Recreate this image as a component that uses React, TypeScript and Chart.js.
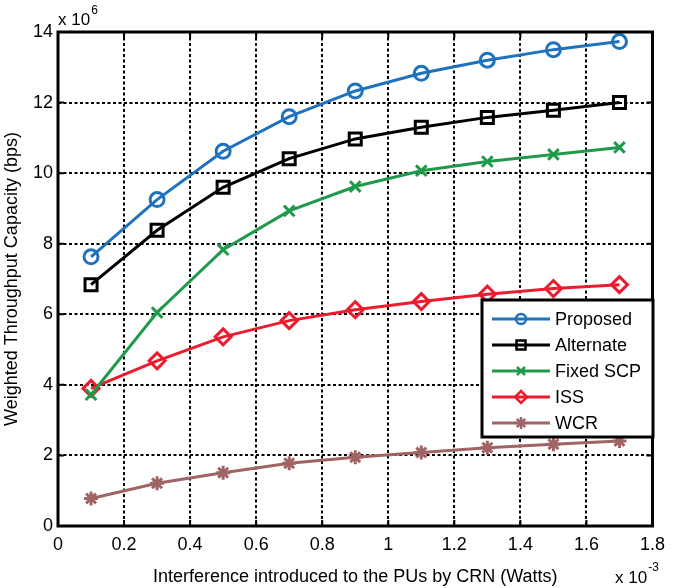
import React, { useEffect, useRef } from "react";
import { Chart, registerables } from "chart.js";

Chart.register(...registerables);

const xValues = [0.1, 0.3, 0.5, 0.7, 0.9, 1.1, 1.3, 1.5, 1.7];
const proposed = [7.63, 9.25, 10.62, 11.6, 12.33, 12.83, 13.2, 13.5, 13.73];
const alternate = [6.84, 8.38, 9.6, 10.41, 10.97, 11.3, 11.58, 11.78, 12.0];
const fixedSCP = [3.72, 6.05, 7.83, 8.93, 9.62, 10.07, 10.33, 10.53, 10.73];
const iss = [3.9, 4.68, 5.36, 5.82, 6.13, 6.36, 6.57, 6.73, 6.84];
const wcr = [0.78, 1.21, 1.51, 1.78, 1.95, 2.08, 2.22, 2.32, 2.41];

const seriesNames = ["Proposed", "Alternate", "Fixed SCP", "ISS", "WCR"];
const seriesColors = ["#1f72bd", "#000000", "#1f9a4a", "#ec1c2e", "#a06464"];
const seriesStyles = ["circle", "rect", "crossRot", "rectRot", "star"];
const seriesRadius = [7, 8.5, 7.5, 8, 7];

const FONT = "'Liberation Sans', Arial, Helvetica, sans-serif";

function drawMarker(ctx: CanvasRenderingContext2D, style: string, x: number, y: number, r: number, color: string) {
  ctx.save();
  ctx.strokeStyle = color;
  ctx.lineWidth = 2.5;
  ctx.setLineDash([]);
  ctx.beginPath();
  if (style === "circle") {
    ctx.arc(x, y, r, 0, Math.PI * 2);
  } else if (style === "rect") {
    ctx.rect(x - r, y - r, r * 2, r * 2);
  } else if (style === "crossRot") {
    ctx.moveTo(x - r, y - r); ctx.lineTo(x + r, y + r);
    ctx.moveTo(x + r, y - r); ctx.lineTo(x - r, y + r);
  } else if (style === "rectRot") {
    ctx.moveTo(x, y - r); ctx.lineTo(x + r, y); ctx.lineTo(x, y + r); ctx.lineTo(x - r, y); ctx.closePath();
  } else {
    const d = r * 0.7;
    ctx.moveTo(x - r, y); ctx.lineTo(x + r, y);
    ctx.moveTo(x, y - r); ctx.lineTo(x, y + r);
    ctx.moveTo(x - d, y - d); ctx.lineTo(x + d, y + d);
    ctx.moveTo(x + d, y - d); ctx.lineTo(x - d, y + d);
  }
  ctx.stroke();
  ctx.restore();
}

const legendMarkerSize = [5, 4.5, 4, 6, 6];

export default function App() {
  const ref = useRef<HTMLCanvasElement>(null);
  useEffect(() => {
    document.body.style.margin = "0";
    const seriesData = [proposed, alternate, fixedSCP, iss, wcr];
    const datasets = seriesData.map((vals, i) => ({
      label: seriesNames[i],
      data: xValues.map((x, j) => ({ x, y: vals[j] })),
      borderColor: seriesColors[i],
      backgroundColor: "rgba(0,0,0,0)",
      borderWidth: 3,
      pointStyle: seriesStyles[i] as any,
      pointRadius: seriesRadius[i],
      pointBorderWidth: 3,
      pointBorderColor: seriesColors[i],
      pointBackgroundColor: "rgba(0,0,0,0)",
      tension: 0,
    }));

    const framePlugin = {
      id: "frame",
      afterDraw(chart: any) {
        const ctx = chart.ctx;
        const a = chart.chartArea;
        const xs = chart.scales.x;
        const ys = chart.scales.y;
        ctx.save();
        ctx.strokeStyle = "#000";
        ctx.lineWidth = 2;
        ctx.setLineDash([]);
        const tl = 6;
        for (let v = 0; v <= 1.8001; v += 0.2) {
          const px = xs.getPixelForValue(v);
          ctx.beginPath();
          ctx.moveTo(px, a.bottom);
          ctx.lineTo(px, a.bottom - tl);
          ctx.moveTo(px, a.top);
          ctx.lineTo(px, a.top + tl);
          ctx.stroke();
        }
        for (let v = 0; v <= 14; v += 2) {
          const py = ys.getPixelForValue(v);
          ctx.beginPath();
          ctx.moveTo(a.left, py);
          ctx.lineTo(a.left + tl, py);
          ctx.moveTo(a.right, py);
          ctx.lineTo(a.right - tl, py);
          ctx.stroke();
        }
        ctx.lineWidth = 3;
        ctx.strokeRect(a.left, a.top, a.right - a.left, a.bottom - a.top);

        // multipliers
        ctx.fillStyle = "#000";
        ctx.textBaseline = "alphabetic";
        ctx.textAlign = "left";
        ctx.font = `17px ${FONT}`;
        ctx.fillText("x 10", a.left, 25);
        let w = ctx.measureText("x 10").width;
        ctx.font = `12px ${FONT}`;
        ctx.fillText("6", a.left + w + 1, 14);
        ctx.font = `17px ${FONT}`;
        ctx.fillText("x 10", 615, 583);
        w = ctx.measureText("x 10").width;
        ctx.font = `12px ${FONT}`;
        ctx.fillText("-3", 615 + w + 1, 571);

        // legend
        const lx = 482, ly = 300, lw = 171, lh = 137;
        ctx.fillStyle = "#fff";
        ctx.fillRect(lx, ly, lw, lh);
        ctx.lineWidth = 3;
        ctx.strokeStyle = "#000";
        ctx.strokeRect(lx, ly, lw, lh);
        ctx.font = `18px ${FONT}`;
        ctx.textBaseline = "middle";
        for (let i = 0; i < seriesNames.length; i++) {
          const cy = ly + 19 + i * 26;
          ctx.strokeStyle = seriesColors[i];
          ctx.lineWidth = 3;
          ctx.beginPath();
          ctx.moveTo(lx + 10, cy);
          ctx.lineTo(lx + 68, cy);
          ctx.stroke();
          drawMarker(ctx, seriesStyles[i], lx + 39, cy, legendMarkerSize[i], seriesColors[i]);
          ctx.fillStyle = "#000";
          ctx.fillText(seriesNames[i], lx + 73, cy + 1);
        }
        ctx.restore();
      },
    };

    const chart = new Chart(ref.current!, {
      type: "line",
      data: { datasets },
      options: {
        responsive: false,
        animation: false,
        layout: { padding: { top: 32, right: 11, left: 0, bottom: 0 } },
        plugins: { legend: { display: false }, tooltip: { enabled: false } },
        scales: {
          x: {
            type: "linear",
            min: 0,
            max: 1.8,
            afterFit: (s: any) => { s.height = 62; },
            ticks: {
              stepSize: 0.2,
              color: "#000",
              padding: 8,
              maxRotation: 0,
              font: { family: FONT, size: 18 },
              callback: (v: any) => String(Math.round(Number(v) * 10) / 10),
            },
            grid: { color: "#000", lineWidth: 2, drawTicks: false },
            border: { display: false, dash: [3, 2.5] },
            title: {
              display: true,
              text: "Interference introduced to the PUs by CRN (Watts)",
              color: "#000",
              font: { family: FONT, size: 18 },
              padding: { top: 11, bottom: 0 },
            },
          },
          y: {
            type: "linear",
            min: 0,
            max: 14,
            afterFit: (s: any) => { s.width = 58; },
            ticks: {
              stepSize: 2,
              color: "#000",
              padding: 5,
              font: { family: FONT, size: 18 },
            },
            grid: { color: "#000", lineWidth: 2, drawTicks: false },
            border: { display: false, dash: [3, 2.5] },
            title: {
              display: true,
              text: "Weighted Throughput Capacity (bps)",
              color: "#000",
              font: { family: FONT, size: 18 },
              padding: { top: 1, bottom: 0 },
            },
          },
        },
      },
      plugins: [framePlugin],
    });
    return () => chart.destroy();
  }, []);
  return (
    <div style={{ width: 673, height: 588, background: "#fff" }}>
      <canvas ref={ref} width={673} height={588} />
    </div>
  );
}
